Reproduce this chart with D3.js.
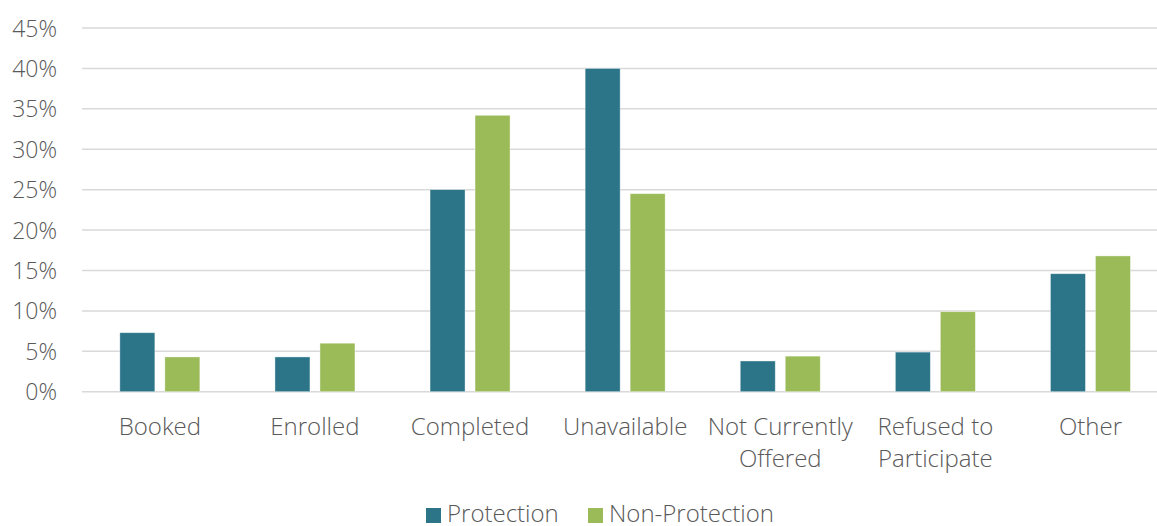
<!DOCTYPE html>
<html><head><meta charset="utf-8">
<script src="https://cdn.jsdelivr.net/npm/d3@7"></script>
<style>
html,body{margin:0;padding:0;background:#fff;}
svg text{font-family:"Open Sans",sans-serif;font-weight:300;fill:#595959;}
</style></head>
<body>
<svg id="chart" width="1157" height="526"></svg>
<script>
const categories = [["Booked"],["Enrolled"],["Completed"],["Unavailable"],["Not Currently","Offered"],["Refused to","Participate"],["Other"]];
const seriesNames = ["Protection","Non-Protection"];
const protection = [7.3, 4.3, 25.0, 40.0, 3.8, 4.9, 14.6];
const nonProtection = [4.3, 6.0, 34.2, 24.5, 4.4, 9.9, 16.8];
const yTicks = [0,5,10,15,20,25,30,35,40,45];
const colors = ["#2C7589","#9BBB59"];

const svg = d3.select("#chart");
const W = 1157;
const x = d3.scaleBand().domain(d3.range(categories.length)).range([82.3,1168]).paddingInner(0).paddingOuter(0);
const y = d3.scaleLinear().domain([0,45]).range([391.7,28]);

// gridlines
svg.append("g").selectAll("line").data(yTicks).join("line")
  .attr("x1",82).attr("x2",W).attr("y1",d=>y(d)).attr("y2",d=>y(d))
  .attr("stroke","#d9d9d9").attr("stroke-width",1.5);

// y axis labels
const yAxis = d3.axisLeft(y).tickValues(yTicks).tickFormat(d=>d+"%").tickSize(0).tickPadding(0);
const ya = svg.append("g").attr("transform","translate(57,0)").call(yAxis);
ya.select(".domain").remove();
ya.selectAll("text").attr("font-size",23).attr("dy","0.35em").style("font-family","Open Sans").style("font-weight",300).attr("fill","#595959");

// bars
const barW = 35, gap = 10;
const series = [protection, nonProtection];
series.forEach((vals,si)=>{
  svg.append("g").selectAll("rect").data(vals).join("rect")
    .attr("x",(d,i)=>x(i)+x.bandwidth()/2 - (barW*2+gap)/2 + si*(barW+gap))
    .attr("width",barW)
    .attr("y",d=>y(d))
    .attr("height",d=>y(0)-y(d))
    .attr("fill",colors[si])
    .attr("stroke","#ffffff").attr("stroke-opacity",0.5).attr("stroke-width",0.75);
});

// category labels
const cg = svg.append("g").selectAll("text").data(categories).join("text")
  .attr("x",(d,i)=>x(i)+x.bandwidth()/2)
  .attr("y",435)
  .attr("text-anchor","middle")
  .attr("font-size",24);
cg.selectAll("tspan").data(d=>d).join("tspan")
  .attr("x",function(){return d3.select(this.parentNode).attr("x");})
  .attr("dy",(d,i)=>i===0?0:32)
  .text(d=>d);

// legend
const legX = [426, 588];
const lg = svg.append("g");
seriesNames.forEach((n,i)=>{
  lg.append("rect").attr("x",legX[i]).attr("y",508).attr("width",15).attr("height",15).attr("fill",colors[i]);
  lg.append("text").attr("x",legX[i]+21).attr("y",522).attr("font-size",24).text(n);
});
</script>
</body></html>
